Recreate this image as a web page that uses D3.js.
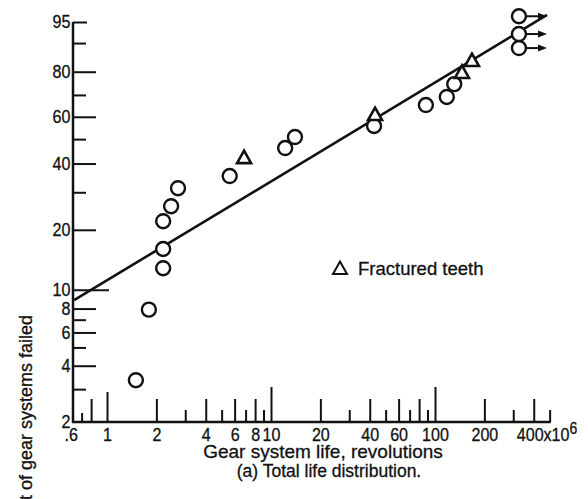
<!DOCTYPE html>
<html><head><meta charset="utf-8">
<script src="https://cdn.jsdelivr.net/npm/d3@7"></script>
<style>
body{margin:0;background:#fff}
svg{display:block}
text{font-family:"Liberation Sans",Arial,sans-serif;fill:#111;stroke:#111;stroke-width:0.3px}
</style>
</head><body>
<svg id="c" width="588" height="499"></svg>
<script>
// ---- data (life in millions of revolutions, percent failed) ----
const lifeCircles = [1.5, 1.8, 2.2, 2.2, 2.2, 2.46, 2.71, 5.6, 12.2, 14.0, 42.5, 88, 118, 131];
const pctCircles  = [3.35, 7.9, 12.9, 16.1, 22.0, 25.9, 31.3, 35.4, 46.2, 50.9, 55.8, 65.4, 69.1, 74.8];
const lifeTeeth = [6.85, 43.1, 146, 168];
const pctTeeth  = [42.1, 60.8, 79.5, 84.1];
const lifeSuspended = [325, 325, 325];
const pctSuspended  = [88.5, 92.4, 96.0];
const arrowLife = 482;
const fitLife = [0.63, 482];
const fitPct  = [8.85, 96.2];

const yMajor = [80, 60, 40, 20, 8, 6, 4];
const yTen = [10];
const yTop = [95];
const yMinor = [90, 70, 50, 30, 7, 5, 3];
const yLabels = [95, 80, 60, 40, 20, 10, 8, 6, 4, 2];

const xDecade = [10, 100];
const xOne = [1];
const xMid = [0.8, 2, 4, 6, 8, 20, 40, 60, 80, 200, 400];
const xSmall = [3, 5, 7, 9, 30, 50, 70, 90, 300, 500];
const xTiny = [0.7];
const xLabels = [0.6, 1, 2, 4, 6, 8, 10, 20, 40, 60, 100, 200];

const legendText = "Fractured teeth";
const xTitle = "Gear system life, revolutions";
const yTitle = "Percent of gear systems failed";
const caption = "(a) Total life distribution.";

// ---- scales ----
const weib = p => Math.log(-Math.log(1 - p / 100));
const unweib = t => 100 * (1 - Math.exp(-Math.exp(t)));
const x = d3.scaleLog().domain([1, 10]).range([107, 271]);
const y = d3.scaleLinear().domain([weib(95), weib(2)]).range([22, 422]);
const X0 = 73, Y0 = 422;
const ink = "#111";
const TK = 18.5;
const SQ = "scale(0.87,1)";

const svg = d3.select("#c");

function clean(g){ g.select(".domain").remove(); }

// y ticks
function yTicks(vals, len){
  svg.append("g").attr("transform", `translate(${X0},0)`)
    .call(d3.axisLeft(y).tickValues(vals.map(weib)).tickSize(-len).tickFormat(""))
    .call(clean)
    .selectAll("line").attr("stroke", ink).attr("stroke-width", 2);
}
yTicks(yMajor, 23); yTicks(yTen, 36); yTicks(yTop, 14); yTicks(yMinor, 13);

svg.append("g").attr("transform", `translate(${X0},0)`)
  .call(d3.axisLeft(y).tickValues(yLabels.map(weib)).tickSize(0).tickPadding(3)
    .tickFormat(d => String(Math.round(unweib(d)))))
  .call(clean)
  .call(g => g.attr("font-family", null).attr("font-size", null))
  .call(g => g.selectAll("text").attr("font-size", TK).attr("fill", ink).attr("transform", SQ));

// x ticks
function xTicks(vals, len){
  svg.append("g").attr("transform", `translate(0,${Y0})`)
    .call(d3.axisBottom(x).tickValues(vals).tickSize(-len).tickFormat(""))
    .call(clean)
    .selectAll("line").attr("stroke", ink).attr("stroke-width", 2);
}
xTicks(xDecade, 35); xTicks(xOne, 30); xTicks(xMid, 23); xTicks(xSmall, 12); xTicks(xTiny, 9);

svg.append("g").attr("transform", `translate(0,${Y0})`)
  .call(d3.axisBottom(x).tickValues(xLabels).tickSize(0).tickPadding(6)
    .tickFormat(d => d < 1 ? String(d).replace(/^0/, "") : String(d)))
  .call(clean)
  .call(g => g.attr("font-family", null).attr("font-size", null))
  .call(g => g.selectAll("text").attr("font-size", TK).attr("fill", ink).attr("transform", SQ));

// 400x10^6 label
const t400 = svg.append("text").attr("transform", `translate(${x(400) - 17},${Y0 + 19}) ${SQ}`)
  .attr("font-size", TK).text("400x10");
t400.append("tspan").attr("dy", -7).attr("font-size", 16).text("6");

// axis lines
svg.append("line").attr("x1", X0).attr("x2", X0).attr("y1", y(weib(95))).attr("y2", Y0 + 1)
  .attr("stroke", ink).attr("stroke-width", 2.5);
svg.append("line").attr("x1", X0 - 1).attr("x2", x(500) + 1).attr("y1", Y0).attr("y2", Y0)
  .attr("stroke", ink).attr("stroke-width", 2.5);

// fitted line
svg.append("path")
  .attr("d", d3.line().x(d => x(d[0])).y(d => y(weib(d[1])))(fitLife.map((v, i) => [v, fitPct[i]])))
  .attr("fill", "none").attr("stroke", ink).attr("stroke-width", 2.6);

// suspension arrows
lifeSuspended.forEach((v, i) => {
  const yy = y(weib(pctSuspended[i]));
  const x1 = x(v), x2 = x(arrowLife);
  svg.append("line").attr("x1", x1).attr("x2", x2 - 6).attr("y1", yy).attr("y2", yy)
    .attr("stroke", ink).attr("stroke-width", 2);
  svg.append("path").attr("d", `M${x2},${yy} L${x2 - 9},${yy - 3.5} L${x2 - 9},${yy + 3.5} Z`).attr("fill", ink);
});

// circles
const circ = lifeCircles.map((v, i) => [v, pctCircles[i]])
  .concat(lifeSuspended.map((v, i) => [v, pctSuspended[i]]));
svg.append("g").selectAll("circle").data(circ).join("circle")
  .attr("cx", d => x(d[0])).attr("cy", d => y(weib(d[1]))).attr("r", 7)
  .attr("fill", "#fff").attr("stroke", ink).attr("stroke-width", 2.4);

// triangles
const tri = "M0,-7.5 L7,5 L-7,5 Z";
svg.append("g").selectAll("path").data(lifeTeeth.map((v, i) => [v, pctTeeth[i]])).join("path")
  .attr("d", tri).attr("transform", d => `translate(${x(d[0])},${y(weib(d[1]))})`)
  .attr("fill", "#fff").attr("stroke", ink).attr("stroke-width", 2.6).attr("stroke-linejoin", "miter");

// legend
svg.append("path").attr("d", tri).attr("transform", "translate(340,269)")
  .attr("fill", "#fff").attr("stroke", ink).attr("stroke-width", 2);
svg.append("text").attr("x", 358).attr("y", 275).attr("font-size", 18.5).text(legendText);

// titles
svg.append("text").attr("x", 323).attr("y", 458).attr("text-anchor", "middle").attr("font-size", 19).text(xTitle);
svg.append("text").attr("x", 329).attr("y", 477).attr("text-anchor", "middle").attr("font-size", 17.5).text(caption);
svg.append("text").attr("transform", "translate(32,315) rotate(-90)").attr("text-anchor", "end")
  .attr("font-size", 18).text(yTitle);
</script>
</body></html>
